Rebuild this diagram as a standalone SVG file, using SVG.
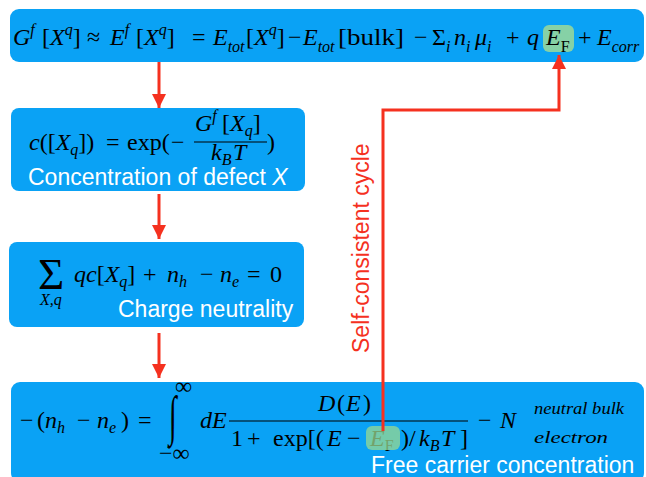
<svg xmlns="http://www.w3.org/2000/svg" width="646" height="477" viewBox="0 0 646 477">
<defs>
<style>
.box{fill:#0aa2f5}
.m{font-family:"Liberation Serif","DejaVu Serif",serif;font-size:24px;fill:#000}
.i{font-style:italic}
.s{font-size:16px}
.t{font-size:16px}
.w{font-family:"Liberation Sans",Arial,sans-serif;font-size:23px;fill:#fff}
.r{font-family:"Liberation Sans",Arial,sans-serif;font-size:23px;fill:#f5311f}
.ln{stroke:#f5311f;stroke-width:3;fill:none}
.bar{stroke:#000;stroke-width:1.2}
</style>
<marker id="ah" markerUnits="userSpaceOnUse" markerWidth="14" markerHeight="16" refX="14" refY="7" orient="auto">
<path d="M0,0 L14,7 L0,14 Z" fill="#f5311f"/>
</marker>
</defs>
<rect width="646" height="477" fill="#fff"/>

<g id="n1">
<rect class="box" x="10" y="9" width="634" height="53" rx="9"/>
<rect x="543" y="25" width="31" height="27" rx="6" fill="#86d1a6"/>
<text class="m" y="45"><tspan x="13" class="i">G</tspan><tspan class="i s" y="35">f</tspan><tspan x="42" y="45">[</tspan><tspan class="i">X</tspan><tspan class="i s" y="35">q</tspan><tspan y="45">]</tspan><tspan x="87">≈</tspan><tspan x="110" class="i">E</tspan><tspan class="i s" y="35">f</tspan><tspan x="136" y="45">[</tspan><tspan class="i">X</tspan><tspan class="i s" y="35">q</tspan><tspan y="45">]</tspan><tspan x="192">=</tspan><tspan x="213" class="i">E</tspan><tspan class="i s" y="52">tot</tspan><tspan x="246" y="45">[</tspan><tspan class="i">X</tspan><tspan class="i s" y="35">q</tspan><tspan y="45">]</tspan><tspan x="288">−</tspan><tspan x="303" class="i">E</tspan><tspan class="i s" y="52">tot</tspan><tspan x="338" y="45" textLength="66" lengthAdjust="spacingAndGlyphs">[bulk]</tspan><tspan x="414">−</tspan><tspan x="432">Σ</tspan><tspan class="i s" y="52">i</tspan><tspan x="454" class="i" y="45">n</tspan><tspan class="i s" y="52">i</tspan><tspan x="475" class="i" y="45">μ</tspan><tspan class="i s" y="52">i</tspan><tspan x="506" y="45">+</tspan><tspan x="527" class="i">q</tspan><tspan x="546" class="i">E</tspan><tspan class="s" y="52">F</tspan><tspan x="578" y="45">+</tspan><tspan x="597" class="i">E</tspan><tspan class="i s" y="52">corr</tspan></text>
</g>

<g id="n2">
<rect class="box" x="11" y="108" width="294" height="83" rx="8"/>
<text class="m" y="150"><tspan x="29" class="i">c</tspan><tspan>([</tspan><tspan class="i">X</tspan><tspan class="i s" y="155">q</tspan><tspan y="150">])</tspan><tspan x="106">=</tspan><tspan x="127">exp(</tspan><tspan x="171">−</tspan><tspan x="267">)</tspan></text>
<text class="m" y="131"><tspan x="195" class="i">G</tspan><tspan class="i s" y="121">f</tspan><tspan x="222" y="131">[</tspan><tspan class="i">X</tspan><tspan class="i s" y="136">q</tspan><tspan y="131">]</tspan></text>
<line class="bar" x1="194" y1="142" x2="267" y2="142"/>
<text class="m" y="160"><tspan x="211" class="i">k</tspan><tspan class="i s" y="165">B</tspan><tspan x="233" class="i" y="160">T</tspan></text>
<text class="w" x="28" y="185">Concentration of defect <tspan font-style="italic">X</tspan></text>
</g>

<g id="n3">
<rect class="box" x="9" y="242" width="295" height="85" rx="8"/>
<text class="m" x="38" y="289" style="font-size:45px">Σ</text>
<text class="m i s" x="40" y="305">X,q</text>
<text class="m" y="282"><tspan x="74" class="i">qc</tspan><tspan>[</tspan><tspan class="i">X</tspan><tspan class="i s" y="287">q</tspan><tspan y="282">]</tspan><tspan x="143">+</tspan><tspan x="167" class="i">n</tspan><tspan class="i s" y="287">h</tspan><tspan x="200" y="282">−</tspan><tspan x="220" class="i">n</tspan><tspan class="i s" y="287">e</tspan><tspan x="247" y="282">=</tspan><tspan x="270">0</tspan></text>
<text class="w" x="118" y="317">Charge neutrality</text>
</g>

<g id="n4">
<rect class="box" x="11" y="382" width="633" height="100" rx="9"/>
<text class="m" y="428"><tspan x="20">−</tspan><tspan x="37">(</tspan><tspan x="45" class="i">n</tspan><tspan class="i t" y="433">h</tspan><tspan x="77" y="428">−</tspan><tspan x="97" class="i">n</tspan><tspan class="i t" y="433">e</tspan><tspan x="121" y="428">)</tspan><tspan x="138">=</tspan><tspan x="200" class="i">dE</tspan><tspan x="478">−</tspan><tspan x="500" class="i">N</tspan></text>
<text class="m" transform="translate(169,434) scale(1,1.95)" style="font-size:28px">∫</text>
<text class="m" x="175" y="394">∞</text>
<text class="m" x="159" y="461">−∞</text>
<text class="m" y="411"><tspan x="318" class="i">D</tspan><tspan x="337">(</tspan><tspan x="346" class="i">E</tspan><tspan x="363">)</tspan></text>
<line class="bar" x1="229" y1="421" x2="468" y2="421"/>
<text class="m" y="446"><tspan x="231">1</tspan><tspan x="247">+</tspan><tspan x="273">exp[(</tspan><tspan x="327" class="i">E</tspan><tspan x="347">−</tspan><tspan x="370" class="i">E</tspan><tspan class="t" y="451">F</tspan><tspan x="401" y="446">)/</tspan><tspan x="419" class="i">k</tspan><tspan class="i t" y="451">B</tspan><tspan x="441" class="i" y="446">T</tspan><tspan x="460">]</tspan></text>
<rect x="366" y="426" width="34" height="24" rx="6" fill="#9ad88f" opacity="0.75"/>
<text class="m i t" x="534" y="414" textLength="90" lengthAdjust="spacingAndGlyphs">neutral bulk</text>
<text class="m i t" x="534" y="443" textLength="74" lengthAdjust="spacingAndGlyphs">electron</text>
<text class="w" x="371" y="473">Free carrier concentration</text>
</g>

<g id="connectors">
<line class="ln" x1="159" y1="62" x2="159" y2="108" marker-end="url(#ah)"/>
<line class="ln" x1="159" y1="194" x2="159" y2="239" marker-end="url(#ah)"/>
<line class="ln" x1="159" y1="333" x2="159" y2="378" marker-end="url(#ah)"/>
<path class="ln" d="M383,431 V110 H559 V55" marker-end="url(#ah)"/>
<text class="r" transform="translate(369,353) rotate(-90)">Self-consistent cycle</text>
</g>
</svg>
